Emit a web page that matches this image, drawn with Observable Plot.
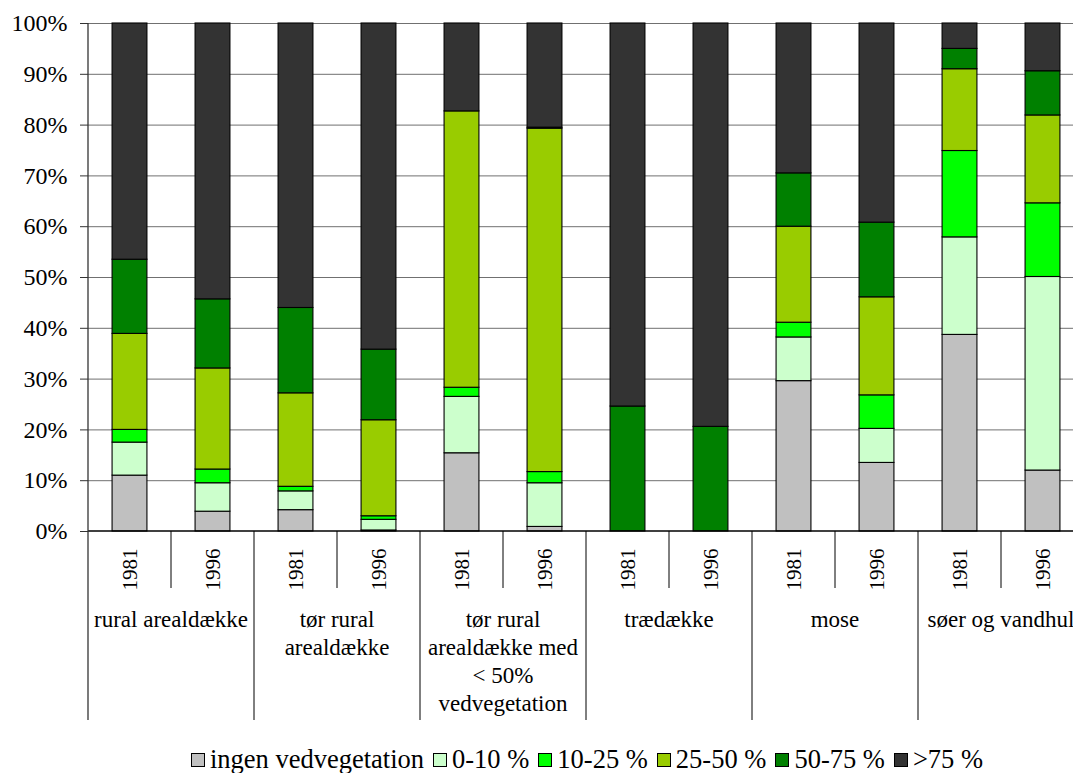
<!DOCTYPE html>
<html>
<head>
<meta charset="utf-8">
<script src="https://cdn.jsdelivr.net/npm/d3@7"></script>
<script src="https://cdn.jsdelivr.net/npm/@observablehq/plot@0.6"></script>
<style>
  html, body { margin: 0; padding: 0; background: #fff; overflow: hidden; }
  #chart { width: 1073px; }
  #legend {
    margin-left: 110px; width: 963px; margin-top: 8px;
    display: flex; justify-content: center; align-items: center;
    font-family: "Liberation Serif", serif; font-size: 26.5px; line-height: 27px; color: #000;
    white-space: nowrap;
  }
  .item { display: flex; align-items: center; margin-right: 9px; }
  .sw { width: 12px; height: 12px; border: 1px solid #000; margin-right: 5px; }
</style>
</head>
<body>
<div id="chart"></div>
<div id="legend"></div>
<script>
// ---- data ----
const categories = [
  "rural arealdække",
  "tør rural\narealdække",
  "tør rural\narealdække med\n< 50%\nvedvegetation",
  "trædække",
  "mose",
  "søer og vandhul"
];
const years = ["1981", "1996"];
const seriesNames = ["ingen vedvegetation", "0-10 %", "10-25 %", "25-50 %", "50-75 %", ">75 %"];
const seriesColors = ["#c0c0c0", "#ccffcc", "#00ff00", "#99cc00", "#008000", "#333333"];
// values per bar, in order: category 1 (1981, 1996), category 2 (1981, 1996), ...
const ingenVed = [11.0, 3.9, 4.2, 0.2, 15.4, 0.9, 0, 0, 29.6, 13.5, 38.7, 12.0];
const ved0_10  = [6.5, 5.6, 3.7, 2.1, 11.1, 8.6, 0, 0, 8.6, 6.7, 19.2, 38.1];
const ved10_25 = [2.5, 2.7, 0.9, 0.7, 1.8, 2.2, 0, 0, 2.9, 6.6, 17.0, 14.5];
const ved25_50 = [18.9, 19.9, 18.4, 18.9, 54.4, 67.6, 0, 0, 18.9, 19.3, 16.1, 17.3];
const ved50_75 = [14.6, 13.6, 16.8, 13.9, 0, 0.2, 24.6, 20.6, 10.5, 14.7, 4.0, 8.7];
const ved75    = [46.5, 54.3, 56.0, 64.2, 17.3, 20.5, 75.4, 79.4, 29.5, 39.2, 5.0, 9.4];
const yTicks = [0, 10, 20, 30, 40, 50, 60, 70, 80, 90, 100];

// ---- build table ----
const seriesValues = [ingenVed, ved0_10, ved10_25, ved25_50, ved50_75, ved75];
const keys = [];
categories.forEach((c, ci) => years.forEach(yr => keys.push(ci + "|" + yr)));
const rows = [];
seriesNames.forEach((s, si) => {
  keys.forEach((k, i) => {
    const v = seriesValues[si][i];
    if (v > 0) rows.push({key: k, cls: s, value: v});
  });
});

const FONT = "'Liberation Serif', 'Times New Roman', serif";

function lowerAxis(index, scales, values, dims) {
  const {x, y} = scales;
  const bw = x.bandwidth();
  const step = x(keys[1]) - x(keys[0]);
  const pad = (step - bw) / 2;
  const y0 = y(0);
  const shortLen = 57, longLen = 189;
  const g = d3.create("svg:g").attr("font-family", FONT).attr("fill", "#000");
  const left = x(keys[0]) - pad;
  const right = x(keys[keys.length - 1]) + bw + pad;
  g.append("line").attr("x1", left).attr("x2", right).attr("y1", y0).attr("y2", y0)
    .attr("stroke", "#000").attr("stroke-width", 1.3);
  g.append("line").attr("x1", left).attr("x2", left).attr("y1", y(100)).attr("y2", y0 + longLen)
    .attr("stroke", "#333").attr("stroke-width", 1.3);
  keys.forEach((k, i) => {
    const bx = x(k) - pad;
    if (i > 0) {
      g.append("line").attr("x1", bx).attr("x2", bx).attr("y1", y0)
        .attr("y2", y0 + (i % 2 === 1 ? shortLen : longLen))
        .attr("stroke", "#000").attr("stroke-width", 1);
    }
    g.append("text")
      .attr("transform", `translate(${x(k) + bw / 2},${y0 + 38.5}) rotate(-90)`)
      .attr("text-anchor", "middle").attr("dominant-baseline", "central")
      .attr("font-size", 21)
      .text(k.split("|")[1]);
  });
  g.append("line").attr("x1", right).attr("x2", right).attr("y1", y0).attr("y2", y0 + longLen)
    .attr("stroke", "#000");
  categories.forEach((c, ci) => {
    const cx = x(keys[ci * 2]) + bw + pad;
    const t = g.append("text").attr("text-anchor", "middle").attr("font-size", 23)
      .attr("y", y0 + 96);
    c.split("\n").forEach((line, li) => {
      t.append("tspan").attr("x", cx).attr("dy", li === 0 ? 0 : 28).text(line);
    });
  });
  return g.node();
}

const chart = Plot.plot({
  width: 1073,
  height: 738,
  marginLeft: 88,
  marginRight: -11,
  marginTop: 23,
  marginBottom: 207,
  style: {fontFamily: FONT, color: "#000", background: "#fff", overflow: "hidden"},
  x: {domain: keys, type: "band", paddingInner: 0.58, paddingOuter: 0.29, align: 0.5, round: false, axis: null},
  y: {domain: [0, 100], axis: null},
  color: {domain: seriesNames, range: seriesColors},
  marks: [
    Plot.ruleY(yTicks.filter(d => d > 0), {stroke: "#707070", strokeWidth: 1}),
    Plot.barY(rows, Plot.stackY({x: "key", y: "value", z: "cls", fill: "cls", stroke: "#000", strokeWidth: 1.1})),
    Plot.axisY({ticks: yTicks, tickFormat: d => d + "%", tickSize: 8, tickPadding: 13, fontSize: 24, label: null, stroke: "#333"}),
    lowerAxis
  ]
});
document.getElementById("chart").appendChild(chart);

const legend = document.getElementById("legend");
seriesNames.forEach((s, i) => {
  const item = document.createElement("div");
  item.className = "item";
  const sw = document.createElement("div");
  sw.className = "sw";
  sw.style.background = seriesColors[i];
  const lab = document.createElement("span");
  lab.textContent = s;
  item.appendChild(sw);
  item.appendChild(lab);
  legend.appendChild(item);
});
</script>
</body>
</html>
